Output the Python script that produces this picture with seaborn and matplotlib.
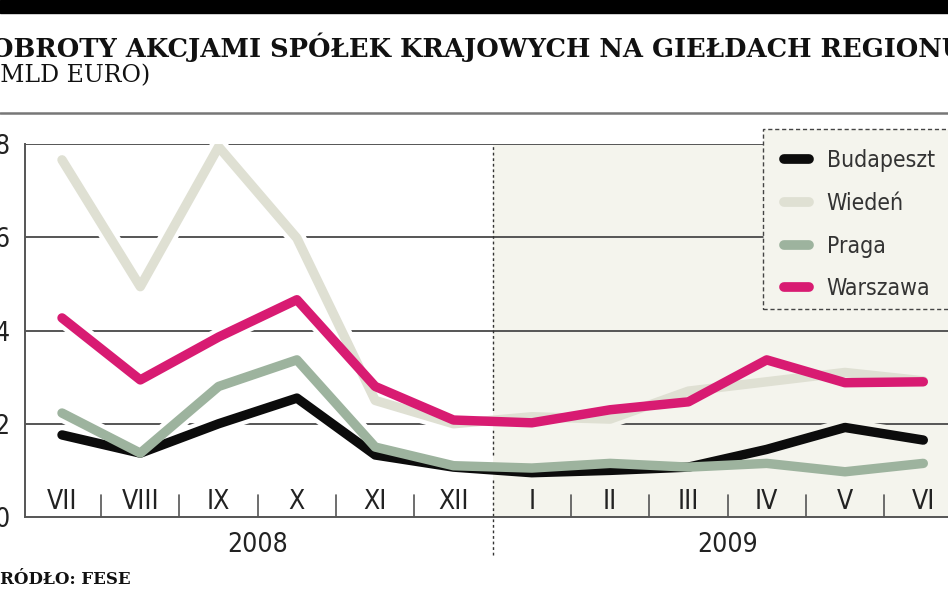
import numpy as np
import pandas as pd
import matplotlib
matplotlib.use("Agg")
import matplotlib.pyplot as plt
import seaborn as sns
from matplotlib.lines import Line2D
from matplotlib.patches import Rectangle
from matplotlib.font_manager import FontProperties, fontManager

# ---- data ----
months = ["VII", "VIII", "IX", "X", "XI", "XII", "I", "II", "III", "IV", "V", "VI"]
years = ["2008", "2009"]
budapeszt = [1.76, 1.37, 2.00, 2.55, 1.33, 1.07, 0.95, 1.00, 1.07, 1.45, 1.92, 1.65]
wieden = [7.66, 4.94, 7.94, 5.98, 2.50, 2.00, 2.15, 2.10, 2.70, 2.90, 3.10, 2.92]
praga = [2.23, 1.37, 2.80, 3.37, 1.50, 1.10, 1.05, 1.15, 1.07, 1.15, 0.97, 1.15]
warszawa = [4.27, 2.94, 3.86, 4.66, 2.80, 2.08, 2.02, 2.30, 2.47, 3.37, 2.88, 2.90]
series_names = ["Budapeszt", "Wiedeń", "Praga", "Warszawa"]
yticks = [0, 2, 4, 6, 8]

colors = {"Budapeszt": "#0c0c0c", "Wiedeń": "#dfe0d3", "Praga": "#9db39e", "Warszawa": "#d81b72"}
beige = "#f4f4ed"
grid_c = "#555555"

names = {f.name for f in fontManager.ttflist}
cond = [f for f in fontManager.ttflist if f.name == "DejaVu Sans" and f.stretch == "condensed"]
if "Liberation Sans Narrow" in names:
    NARROW = dict(family="Liberation Sans Narrow")
elif cond:
    NARROW = dict(family="DejaVu Sans", stretch="condensed", weight="normal")
else:
    NARROW = dict(family="DejaVu Sans")

def fp(size):
    return FontProperties(size=size, **NARROW)

df = pd.DataFrame({"idx": np.arange(len(months))})
for name, vals in zip(series_names, [budapeszt, wieden, praga, warszawa]):
    df[name] = vals
long = df.melt(id_vars="idx", var_name="miasto", value_name="wartosc")

sns.set_style("white")
fig = plt.figure(figsize=(9.48, 5.93), dpi=100)
W, H = 948, 593
ax = fig.add_axes([25 / W, 1 - 517 / H, 1 - 25 / W, (517 - 144) / H])

x0 = (25 - 62) / 78.3
x1 = (948 - 62) / 78.3
ax.set_xlim(x0, x1)
ax.set_ylim(0, 8)

ax.axvspan(5.5, x1 + 1, color=beige, zorder=0, lw=0)

for g in [2, 4, 6, 8]:
    ax.axhline(g, color=grid_c, lw=1.4, zorder=1)

sns.lineplot(data=long, x="idx", y="wartosc", hue="miasto", hue_order=series_names,
             palette=colors, lw=6.8, ax=ax, legend=False, zorder=5,
             solid_capstyle="round", solid_joinstyle="round")

left_clip = Rectangle((x0 - 1, -1), 5.5 - x0 + 1, 10, transform=ax.transData)
right_clip = Rectangle((5.5, -1), 10, 10, transform=ax.transData)
for ln in list(ax.lines):
    if ln.get_linewidth() < 5:
        continue
    xd, yd = ln.get_xdata(), ln.get_ydata()
    for col, clip in [("white", left_clip), (beige, right_clip)]:
        h, = ax.plot(xd, yd, color=col, lw=13, zorder=3, solid_capstyle="round",
                     solid_joinstyle="round")
        h.set_clip_path(clip)

ax.plot([5.5, 5.5], [-(555 - 517) / 46.6, 8], color="#333333", lw=1.0,
        ls=(0, (2, 2)), clip_on=False, zorder=2)

for s in ["top", "right"]:
    ax.spines[s].set_visible(False)
for s in ["left", "bottom"]:
    ax.spines[s].set_color(grid_c)
    ax.spines[s].set_linewidth(1.4)
    ax.spines[s].set_zorder(6)

ax.set_xticks([])
ax.set_yticks(yticks)
ax.set_yticklabels([str(v) for v in yticks], fontproperties=fp(19), color="#222222")
ax.tick_params(axis="y", length=0, pad=11)
ax.set_xlabel("")
ax.set_ylabel("")

for i, m in enumerate(months):
    ax.text(i, 0.33, m, ha="center", va="center", fontproperties=fp(19),
            color="#222222", zorder=7)
for i in range(len(months) - 1):
    if i == 5:
        continue
    ax.plot([i + 0.5, i + 0.5], [0, 0.47], color=grid_c, lw=1.2, zorder=6)

ax.text(2.5, -(545 - 517) / 46.6, years[0], ha="center", va="center", fontproperties=fp(19),
        color="#222222", clip_on=False)
ax.text(8.5, -(545 - 517) / 46.6, years[1], ha="center", va="center", fontproperties=fp(19),
        color="#222222", clip_on=False)

# legend box (open to the right, cut by the figure edge)
fig.add_artist(Rectangle((763 / W, 1 - 309 / H), 220 / W, (309 - 129) / H,
                         transform=fig.transFigure, facecolor=beige, edgecolor="#444444",
                         lw=1.0, ls=(0, (3, 2)), zorder=9))
handles = [Line2D([0], [0], color=colors[n], lw=7, solid_capstyle="round") for n in series_names]
leg = fig.legend(handles, series_names, loc="upper left",
                 bbox_to_anchor=(767 / W, 1 - 132 / H), bbox_transform=fig.transFigure,
                 borderaxespad=0, frameon=False, handlelength=1.1,
                 handletextpad=0.75, labelspacing=0.86, borderpad=0.75, prop=fp(16.5))
leg.set_zorder(10)
for t in leg.get_texts():
    t.set_color("#333333")

fig.patches.append(Rectangle((0, 1 - 13 / H), 1, 13 / H, transform=fig.transFigure,
                             color="black", zorder=0))
fig.add_artist(Line2D([0, 1], [1 - 113 / H, 1 - 113 / H], transform=fig.transFigure,
                      color="#777777", lw=1.8))
fig.text(-9 / W, 1 - 47 / H, "OBROTY AKCJAMI SPÓŁEK KRAJOWYCH NA GIEŁDACH REGIONU",
         family="DejaVu Serif", fontweight="bold", fontsize=18.5, color="#111111",
         ha="left", va="center")
fig.text(-9 / W, 1 - 76 / H, "(MLD EURO)", family="DejaVu Serif", fontsize=17,
         color="#111111", ha="left", va="center")
fig.text(-12 / W, 1 - 579 / H, "ŹRÓDŁO: FESE", family="DejaVu Serif", fontweight="bold",
         fontsize=12, color="#111111", ha="left", va="center")

fig.savefig("out.png", dpi=100)
